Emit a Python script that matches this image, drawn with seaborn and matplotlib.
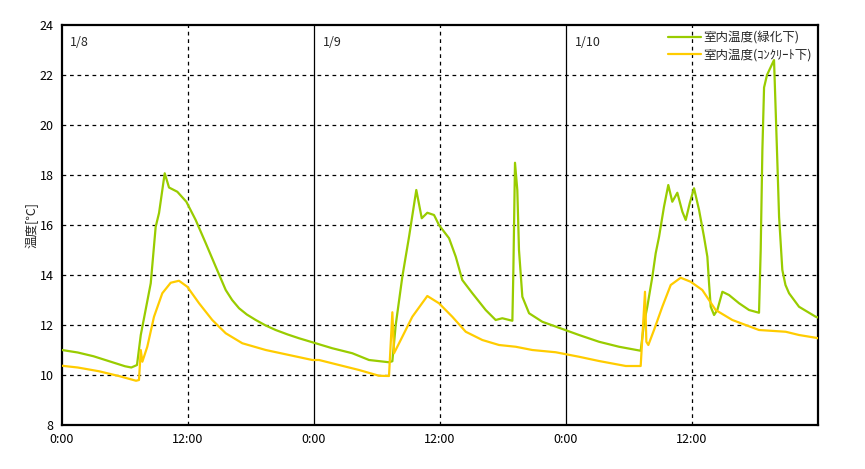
import pandas as pd
import numpy as np
import matplotlib
matplotlib.use("Agg")
import matplotlib.pyplot as plt
import seaborn as sns

# hours from 1/8 0:00
green_hours = [0.0, 1.5, 3.0, 4.5, 6.0, 6.6, 7.14, 7.5, 8.45, 8.92, 9.24, 9.78, 10.19, 10.98,
               11.84, 12.73, 13.69, 14.64, 15.59, 16.2, 16.86, 17.6, 18.45, 19.4, 20.35, 21.5, 22.57,
               23.84, 25.74, 27.65, 29.24, 31.14, 31.46, 31.78, 32.41, 33.05, 33.74, 34.26,
               34.79, 35.43, 35.9, 36.86, 37.5, 38.12, 39.08, 40.35, 41.3, 41.93, 42.89,
               42.98, 43.14, 43.36, 43.52, 43.84, 44.48, 45.74, 47.33, 49.24, 51.14, 53.05,
               55.11, 55.43, 55.74, 56.22, 56.54, 56.86, 57.33, 57.74, 58.12, 58.6, 59.08,
               59.4, 59.78, 60.19, 60.67, 61.14, 61.46, 61.62, 61.78, 62.1, 62.41, 62.89,
               63.52, 64.48, 65.43, 66.38, 66.54, 66.7, 66.86, 67.14, 67.81, 68.12, 68.29,
               68.6, 68.9, 69.24, 70.19, 71.78, 72.0]
green_temp = [11.0, 10.9, 10.75, 10.55, 10.35, 10.3, 10.4, 11.6, 13.67, 15.93, 16.48, 18.07, 17.5, 17.33,
              16.93, 16.2, 15.27, 14.33, 13.4, 13.0, 12.67, 12.42, 12.2, 11.98, 11.8, 11.62, 11.47,
              11.31, 11.07, 10.87, 10.6, 10.51, 10.55, 12.0, 13.93, 15.53, 17.4, 16.27,
              16.49, 16.4, 16.0, 15.47, 14.73, 13.8, 13.27, 12.6, 12.2, 12.27, 12.17,
              14.07, 18.49, 17.4, 15.0, 13.13, 12.47, 12.13, 11.89, 11.6, 11.33, 11.13,
              10.97, 12.07, 12.73, 13.93, 14.87, 15.53, 16.73, 17.6, 16.93, 17.29, 16.53,
              16.2, 16.87, 17.47, 16.6, 15.53, 14.73, 13.67, 12.73, 12.4, 12.6, 13.33,
              13.2, 12.87, 12.6, 12.49, 15.0, 19.0, 21.5, 22.0, 22.6, 18.6, 16.33,
              14.2, 13.6, 13.27, 12.73, 12.33, 12.3]

yellow_hours = [0.0, 1.5, 3.52, 5.5, 7.05, 7.33, 7.5, 7.65, 8.12, 8.76, 9.55, 10.35, 11.14, 11.93,
                13.05, 14.31, 15.59, 17.17, 19.4, 21.62, 23.84, 24.48, 26.38, 28.29, 30.19,
                31.14, 31.46, 31.62, 32.41, 33.36, 34.79, 35.9, 37.17, 38.45, 40.03, 41.62,
                43.21, 44.79, 47.02, 49.24, 51.14, 53.69, 55.11, 55.52, 55.65, 55.84, 56.38,
                57.17, 57.97, 58.92, 59.87, 60.98, 62.25, 63.84, 65.11, 66.38, 68.92, 70.19,
                71.78, 72.0]
yellow_temp = [10.37, 10.3, 10.15, 9.95, 9.77, 9.8, 11.0, 10.53, 11.13, 12.33, 13.27, 13.69, 13.77, 13.53,
               12.87, 12.2, 11.67, 11.27, 11.0, 10.8, 10.6, 10.6, 10.4, 10.2, 9.97,
               9.96, 12.51, 10.87, 11.53, 12.33, 13.16, 12.87, 12.33, 11.73, 11.4, 11.2,
               11.13, 11.0, 10.91, 10.73, 10.56, 10.36, 10.36, 13.33, 11.33, 11.2, 11.8,
               12.73, 13.6, 13.89, 13.73, 13.4, 12.6, 12.2, 12.0, 11.8, 11.73, 11.6,
               11.49, 11.47]

series_names = ["室内温度(緑化下)", "室内温度(ｺﾝｸﾘｰﾄ下)"]
day_labels = ["1/8", "1/9", "1/10"]
x_ticks = [0, 12, 24, 36, 48, 60]
x_tick_labels = ["0:00", "12:00", "0:00", "12:00", "0:00", "12:00"]
y_ticks = [8, 10, 12, 14, 16, 18, 20, 22, 24]

green_color = "#99CC00"
yellow_color = "#FFCC00"

sns.set_style("white")
plt.rcParams['font.family'] = ['Noto Sans CJK JP', 'DejaVu Sans']

df = pd.concat([
    pd.DataFrame({"hour": green_hours, "temp": green_temp, "series": series_names[0]}),
    pd.DataFrame({"hour": yellow_hours, "temp": yellow_temp, "series": series_names[1]}),
])

fig = plt.figure(figsize=(8.65, 4.69), dpi=100)
ax = fig.add_axes([0.0717, 0.0938, 0.8740, 0.8529])

# grid first, lines drawn above
for y in y_ticks[1:-1]:
    ax.axhline(y, color="black", linestyle=(0, (3, 3)), linewidth=0.9, zorder=1)
for x in [12, 36, 60]:
    ax.axvline(x, color="black", linestyle=(0, (3, 3)), linewidth=0.9, zorder=1)
for x in [24, 48]:
    ax.axvline(x, color="black", linestyle="-", linewidth=0.9, zorder=1)

sns.lineplot(data=df, x="hour", y="temp", hue="series",
             palette={series_names[0]: green_color, series_names[1]: yellow_color},
             linewidth=1.6, ax=ax, sort=False, estimator=None, zorder=3)

ax.set_xlim(0, 72)
ax.set_ylim(8, 24)
ax.set_xticks(x_ticks)
ax.set_xticklabels(x_tick_labels)
ax.set_yticks(y_ticks)
ax.tick_params(axis="both", length=0, labelsize=9, pad=6, colors="black")
ax.set_xlabel("")
ax.set_ylabel("温度[℃]", fontsize=9, labelpad=1)

for spine in ax.spines.values():
    spine.set_color("black")
    spine.set_linewidth(1.6)

for i, lbl in enumerate(day_labels):
    ax.text(i * 24 + 0.8, 23.3, lbl, fontsize=9, ha="left", va="center")

leg = ax.legend(loc="upper right", bbox_to_anchor=(1.0, 1.0), frameon=False,
                fontsize=9, handlelength=2.6, handletextpad=0.2, labelspacing=0.35,
                borderaxespad=0.1)
for h in leg.get_lines():
    h.set_linewidth(1.6)

fig.savefig("out.png", dpi=100)
